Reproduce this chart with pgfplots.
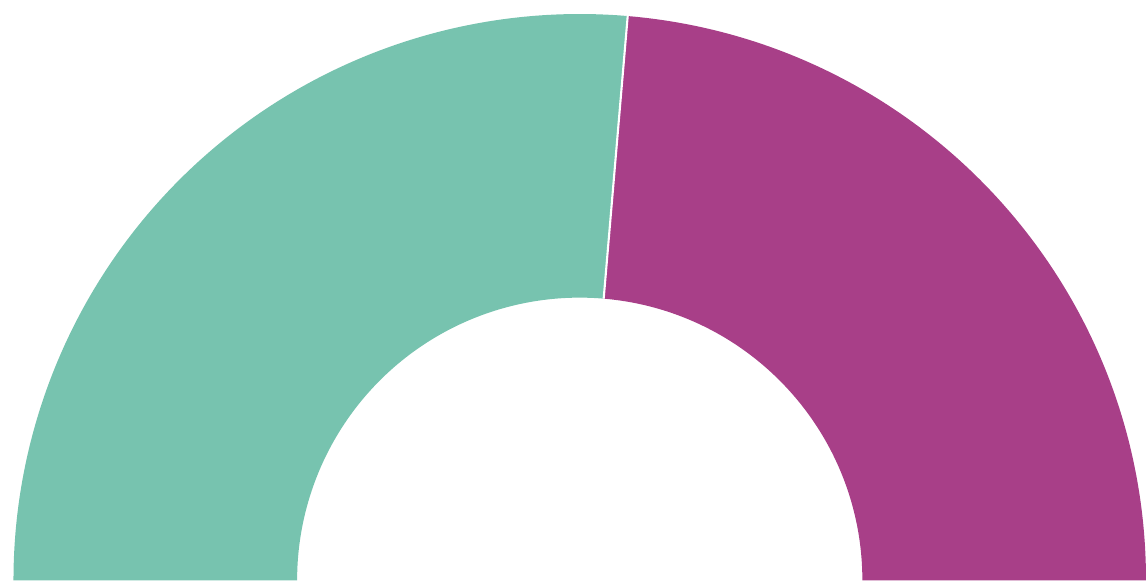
\documentclass[border=0pt]{standalone}
\usepackage{pgfplots}
\usepackage{pgfplotstable}
\pgfplotsset{compat=1.18}
\definecolor{cteal}{HTML}{77C3AF}
\definecolor{cpurple}{HTML}{A83F88}
\pgfplotstableread{
label value
A 52.7
B 47.3
}\datatable
\begin{document}
\begin{tikzpicture}
\pgfplotstablegetelem{0}{value}\of\datatable \let\va\pgfplotsretval
\pgfplotstablegetelem{1}{value}\of\datatable \let\vb\pgfplotsretval
\pgfmathsetmacro{\split}{180-180*\va/(\va+\vb)}
\pgfmathsetmacro{\ro}{5.67}
\pgfmathsetmacro{\ri}{2.83}
\pgfmathsetmacro{\rd}{\ro-\ri}
\begin{axis}[
  x=1cm, y=1cm,
  xmin=0, xmax=11.46, ymin=0, ymax=5.84,
  hide axis, clip=false,
  scale only axis,
]
\path (axis cs:0,0) rectangle (axis cs:11.46,5.84);
\fill[cteal] (axis cs:5.805,0.03) ++(180:\ro cm) arc[start angle=180, end angle=\split, radius=\ro cm] -- ++(\split:-\rd cm) arc[start angle=\split, end angle=180, radius=\ri cm] -- cycle;
\fill[cpurple] (axis cs:5.805,0.03) ++(\split:\ro cm) arc[start angle=\split, end angle=0, radius=\ro cm] -- ++(0:-\rd cm) arc[start angle=0, end angle=\split, radius=\ri cm] -- cycle;
\draw[white, line width=0.6pt] (axis cs:5.805,0.03) ++(\split:\ri cm) -- ++(\split:\rd cm);
\end{axis}
\end{tikzpicture}
\end{document}
